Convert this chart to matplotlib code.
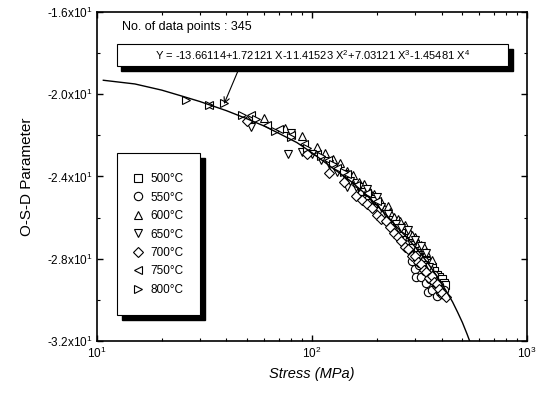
import matplotlib
matplotlib.use("Agg")
import matplotlib.pyplot as plt
from matplotlib.patches import Rectangle
from matplotlib.ticker import FixedLocator, LogLocator, NullFormatter

plt.rcParams['font.family'] = ['Liberation Sans', 'DejaVu Sans']
plt.rcParams['mathtext.fontset'] = 'custom'
plt.rcParams['mathtext.rm'] = 'Liberation Sans'
plt.rcParams['mathtext.it'] = 'Liberation Sans:italic'

# fitted curve
fit_s = [10.7, 15, 20, 25, 30, 40, 50, 60, 70, 85, 100, 125, 150, 175, 200, 225,
         250, 275, 300, 325, 350, 375, 400, 425, 450, 475, 500, 525, 545]
fit_y = [-19.32, -19.5, -19.8, -20.1, -20.35, -20.8, -21.2, -21.55, -21.9, -22.35,
         -22.85, -23.6, -24.2, -24.8, -25.4, -25.95, -26.5, -26.95, -27.4, -27.85,
         -28.3, -28.75, -29.2, -29.65, -30.1, -30.6, -31.1, -31.65, -32.1]

# data points per temperature
s500 = [170, 200, 230, 250, 260, 280, 290, 310, 320, 330, 340, 350, 360, 370, 380,
        390, 400, 410, 415]
y500 = [-24.7, -25.3, -26.0, -26.4, -26.6, -27.0, -27.2, -27.5, -27.7, -27.9, -28.1,
        -28.2, -28.4, -28.6, -28.8, -28.9, -29.0, -29.2, -29.3]

s550 = [240, 260, 270, 280, 290, 295, 300, 305, 310, 315, 320, 330, 335, 340, 345,
        350, 355, 360, 370, 375, 380, 390, 395, 400, 410]
y550 = [-26.6, -26.9, -27.3, -27.5, -28.1, -27.8, -28.5, -28.9, -27.8, -28.3, -28.9,
        -28.1, -28.6, -29.2, -29.6, -28.5, -29.0, -29.5, -28.8, -29.3, -29.8, -29.3,
        -29.6, -29.7, -29.5]

s600 = [60, 75, 90, 105, 115, 125, 135, 145, 150, 155, 165, 175, 180, 185, 195, 200,
        210, 225, 230, 240, 250, 255, 270, 285, 290, 300, 310, 320, 330, 340, 360]
y600 = [-21.15, -21.65, -22.05, -22.55, -22.85, -23.15, -23.35, -23.75, -24.05, -23.95,
        -24.25, -24.35, -24.65, -24.75, -24.85, -25.15, -25.25, -25.45, -25.75, -25.95,
        -26.05, -26.15, -26.35, -26.75, -26.85, -26.95, -27.25, -27.35, -27.45, -27.65,
        -28.05]

s650 = [52, 77, 80, 90, 100, 110, 120, 130, 140, 145, 150, 160, 165, 170, 180, 185,
        190, 195, 200, 205, 210, 220, 225, 235, 245, 250, 260, 265, 280, 290, 300, 310,
        320, 330, 340, 350]
y650 = [-21.6, -22.9, -21.9, -22.8, -22.9, -23.2, -23.4, -23.8, -23.9, -24.5, -24.2,
        -24.5, -24.5, -25.1, -24.6, -25.3, -25.1, -25.2, -25.0, -25.7, -25.5, -25.8,
        -25.8, -26.5, -26.3, -26.5, -26.5, -27.1, -26.6, -27.5, -27.1, -27.8, -27.4,
        -28.3, -27.7, -28.4]

s700 = [50, 95, 120, 140, 160, 170, 180, 190, 200, 210, 220, 230, 240, 250, 260, 270,
        280, 290, 300, 310, 320, 330, 340, 350, 360, 370, 380, 390, 400, 420]
y700 = [-21.3, -22.9, -23.85, -24.25, -24.95, -25.15, -25.35, -25.55, -25.85, -26.05,
        -26.15, -26.45, -26.75, -26.95, -27.15, -27.45, -27.55, -27.85, -27.85, -28.15,
        -28.25, -28.55, -28.65, -28.95, -28.85, -29.15, -29.25, -29.45, -29.65, -29.85]

s750 = [33, 52, 62, 70, 80, 92, 105, 118, 130, 145, 160, 180, 200]
y750 = [-20.5, -21.0, -21.5, -21.7, -22.0, -22.4, -22.9, -23.2, -23.6, -23.9, -24.4,
        -24.8, -25.2]

s800 = [26, 33, 39, 47, 55, 67, 80, 95, 110, 125, 140]
y800 = [-20.3, -20.5, -20.45, -21.0, -21.2, -21.8, -22.1, -22.6, -23.0, -23.4, -23.8]

series = [
    (s500, y500, 's', u'500\u00b0C'),
    (s550, y550, 'o', u'550\u00b0C'),
    (s600, y600, '^', u'600\u00b0C'),
    (s650, y650, 'v', u'650\u00b0C'),
    (s700, y700, 'D', u'700\u00b0C'),
    (s750, y750, '<', u'750\u00b0C'),
    (s800, y800, '>', u'800\u00b0C'),
]

yticks = [-32, -28, -24, -20, -16]
ylabels = [r'-3.2x10$^{1}$', r'-2.8x10$^{1}$', r'-2.4x10$^{1}$', r'-2.0x10$^{1}$', r'-1.6x10$^{1}$']

fig = plt.figure(figsize=(5.39, 3.93), dpi=100)
ax = fig.add_axes([0.18, 0.1323, 0.798, 0.8372])

handles = []
for s, y, m, lab in series:
    ms = 4.8 if m == 'D' else 6
    h, = ax.plot(s, y, linestyle='none', marker=m, ms=ms, mfc='white', mec='black',
                 mew=0.8, label=lab)
    handles.append(h)

ax.plot(fit_s, fit_y, color='black', lw=1.0)

ax.set_xscale('log')
ax.set_xlim(10, 1000)
ax.set_ylim(-32, -16)
ax.set_xticks([10, 100, 1000])
ax.set_xticklabels([r'10$^{1}$', r'10$^{2}$', r'10$^{3}$'])
ax.xaxis.set_minor_locator(LogLocator(base=10, subs=range(2, 10)))
ax.xaxis.set_minor_formatter(NullFormatter())
ax.set_yticks(yticks)
ax.set_yticklabels(ylabels)
ax.yaxis.set_minor_locator(FixedLocator([-30, -26, -22, -18]))
ax.tick_params(which='both', direction='in', top=True, right=True, labelsize=8.5)
ax.tick_params(which='major', length=4, width=1)
ax.tick_params(which='minor', length=2.5, width=0.8)
for sp in ax.spines.values():
    sp.set_linewidth(1.2)

ax.set_xlabel('Stress (MPa)', fontsize=10.5, style='italic', labelpad=4)
ax.set_ylabel('O-S-D Parameter', fontsize=11, labelpad=9)

ax.text(0.058, 0.954, 'No. of data points : 345', transform=ax.transAxes,
        fontsize=9, va='center', ha='left')

# equation box with black shadow
ax.add_patch(Rectangle((0.0465 + 0.010, 0.836 - 0.014), 0.9095, 0.0667,
                       transform=ax.transAxes, facecolor='black', edgecolor='black',
                       zorder=5))
ax.add_patch(Rectangle((0.0465, 0.836), 0.9095, 0.0667, transform=ax.transAxes,
                       facecolor='white', edgecolor='black', lw=0.8, zorder=6))
ax.text(0.5012, 0.869,
        r'Y = -13.66114+1.72121 X-11.41523 X$^{2}$+7.03121 X$^{3}$-1.45481 X$^{4}$',
        transform=ax.transAxes, fontsize=8, ha='center', va='center', zorder=7)
ax.annotate('', xy=(38.5, -20.6), xycoords='data', xytext=(0.3326, 0.836),
            textcoords='axes fraction',
            arrowprops=dict(arrowstyle='->', color='black', lw=0.8), zorder=7)

# legend box with black shadow
ax.add_patch(Rectangle((0.0465 + 0.012, 0.079 - 0.016), 0.193, 0.4924,
                       transform=ax.transAxes, facecolor='black', edgecolor='black',
                       zorder=5))
ax.add_patch(Rectangle((0.0465, 0.079), 0.193, 0.4924, transform=ax.transAxes,
                       facecolor='white', edgecolor='black', lw=0.8, zorder=6))
leg = ax.legend(handles=handles, loc='center left', bbox_to_anchor=(0.085, 0.3237),
                frameon=False, fontsize=8.5, labelspacing=0.55, handlelength=0.8,
                handletextpad=0.6, borderpad=0, borderaxespad=0)
leg.set_zorder(8)

fig.savefig('out.png', dpi=100)
